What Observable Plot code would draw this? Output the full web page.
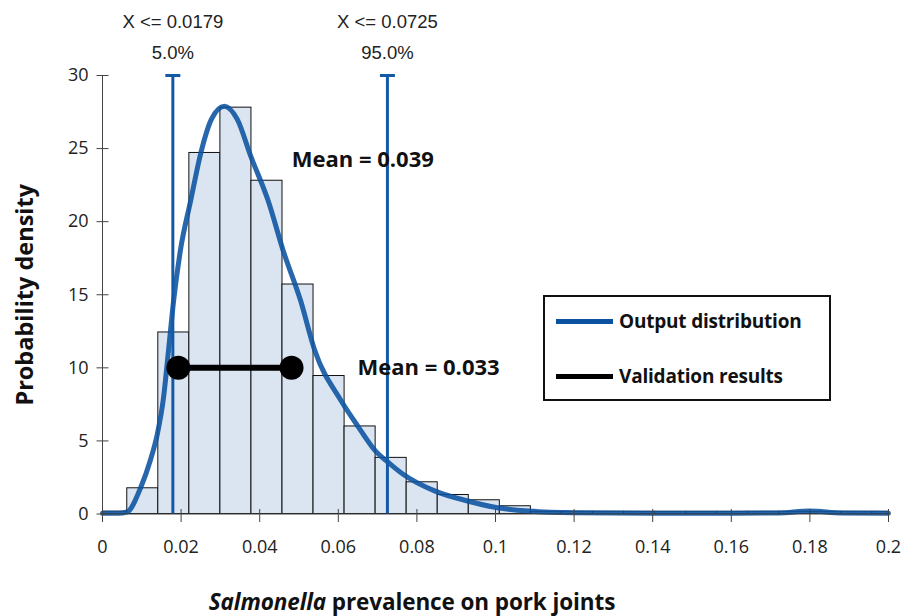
<!DOCTYPE html>
<html>
<head>
<meta charset="utf-8">
<script src="https://cdn.jsdelivr.net/npm/d3@7"></script>
<script src="https://cdn.jsdelivr.net/npm/@observablehq/plot@0.6"></script>
<style>
  html, body { margin: 0; padding: 0; background: #fff; }
  #wrap { position: relative; width: 904px; height: 616px; font-family: "Open Sans", "Noto Sans", sans-serif; }
  #xlabel { position: absolute; left: 412px; top: 589px; transform: translateX(-50%); white-space: nowrap;
            font-weight: 700; font-size: 22.5px; line-height: 25px; color: #111; letter-spacing: -0.1px; }
  #legend { position: absolute; left: 543px; top: 295px; width: 284px; height: 102px; border: 2px solid #111; background: #fff; }
  .item { position: absolute; left: 11px; display: flex; align-items: center; font-weight: 700; font-size: 19px; line-height: 24px; color: #111; letter-spacing: -0.2px; }
  .swatch { width: 57px; height: 5px; margin-right: 6px; }
</style>
</head>
<body>
<div id="wrap">
  <div id="chart"></div>
  <div id="legend"></div>
  <div id="xlabel"></div>
</div>
<script>
// Histogram of simulated prevalence: bin edges and density per bin
const binEdges = [0.0002, 0.0063, 0.0142, 0.0221, 0.0300, 0.0379, 0.0458, 0.0537, 0.0616, 0.0695,
                  0.0774, 0.0853, 0.0932, 0.1011, 0.1090, 0.1169, 0.1248, 0.1327, 0.1406, 0.1485,
                  0.1564, 0.1643, 0.1722, 0.1801, 0.1880, 0.1959, 0.2000];
const binDensity = [0.16, 1.76, 12.42, 24.7, 27.8, 22.8, 15.7, 9.44, 5.99, 3.84,
                    2.17, 1.30, 0.94, 0.53, 0.15, 0.15, 0.15, 0.15, 0.15, 0.15,
                    0.15, 0.15, 0.15, 0.15, 0.15, 0.15];

// Fitted output distribution (density curve)
const curveX = [0, 0.0040, 0.0063, 0.0097, 0.0122, 0.0139, 0.0155, 0.0168, 0.0181, 0.0198,
                0.0224, 0.0252, 0.0277, 0.0310, 0.0343, 0.0377, 0.0422, 0.0460, 0.0504, 0.0540,
                0.0606, 0.0650, 0.0695, 0.0733, 0.0765, 0.0845, 0.0929, 0.1005, 0.1085, 0.1200,
                0.1400, 0.1600, 0.1720, 0.1800, 0.1880, 0.2000];
const curveY = [0.05, 0.05, 0.15, 1.8, 3.7, 5.4, 7.9, 11.2, 14.6, 18.0,
                21.4, 24.9, 27.0, 27.9, 27.0, 24.5, 21.4, 18.0, 14.6, 11.2,
                7.8, 6.0, 4.3, 3.4, 2.72, 1.58, 0.89, 0.43, 0.20, 0.08,
                0.05, 0.05, 0.07, 0.20, 0.07, 0.05];

// 5th and 95th percentiles of the output
const percentiles = [{value: 0.0179, pct: "5.0%"}, {value: 0.0725, pct: "95.0%"}];
const outputMean = 0.039;

// Validation results: range and mean
const validationLow = 0.0193;
const validationHigh = 0.0481;
const validationMean = 0.033;
const validationLevel = 10;

const xTicks = [0, 0.02, 0.04, 0.06, 0.08, 0.1, 0.12, 0.14, 0.16, 0.18, 0.2];
const yTicks = [0, 5, 10, 15, 20, 25, 30];

const blue = "#0a52a0";
const ruleBlue = "#1459a6";
const axisGray = "#444";

const bins = binDensity.map((d, i) => ({x1: binEdges[i], x2: binEdges[i + 1], y: d}));
const curve = curveX.map((x, i) => ({x, y: curveY[i]}));
const validation = [{x: validationLow, y: validationLevel}, {x: validationHigh, y: validationLevel}];

// small line-segment symbols for the axis ticks and the percentile caps
const hbar = w => ({draw(ctx) { ctx.moveTo(-w, 0); ctx.lineTo(w, 0); }});
const vbar = (up, down) => ({draw(ctx) { ctx.moveTo(0, -up); ctx.lineTo(0, down); }});

const fmtX = d => String(+d.toFixed(2));
const labelFont = '"Liberation Sans", Arial, sans-serif';

const chart = Plot.plot({
  width: 904,
  height: 580,
  marginLeft: 102,
  marginRight: 16,
  marginTop: 75,
  marginBottom: 66.5,
  style: {fontFamily: '"Open Sans", "Noto Sans", sans-serif', background: "#fff", overflow: "visible"},
  x: {domain: [0, 0.2], label: null},
  y: {domain: [0, 30], label: null},
  marks: [
    Plot.rectY(bins, {x1: "x1", x2: "x2", y: "y", fill: "#dbe5f1", stroke: "#111", strokeWidth: 1}),
    Plot.line(curve, {x: "x", y: "y", stroke: blue, strokeWidth: 5, strokeOpacity: 0.88, curve: "monotone-x"}),
    Plot.ruleX(percentiles, {x: "value", y1: 0, y2: 30, stroke: ruleBlue, strokeWidth: 3}),
    Plot.dot(percentiles, {x: "value", y: () => 30, symbol: hbar(7.5), r: 7, fill: "none", stroke: ruleBlue, strokeWidth: 3}),
    Plot.text(percentiles, {x: "value", y: () => 30, text: d => `X <= ${d.value}`, dy: -53,
      fontFamily: labelFont, fontSize: 18.5, fill: "#222"}),
    Plot.text(percentiles, {x: "value", y: () => 30, text: "pct", dy: -22,
      fontFamily: labelFont, fontSize: 18.5, fill: "#222"}),
    // axes
    Plot.ruleX([0], {stroke: axisGray, strokeWidth: 1}),
    Plot.ruleY([0], {stroke: axisGray, strokeWidth: 1}),
    Plot.dot(yTicks, {x: () => 0, y: d => d, symbol: hbar(6), r: 6, fill: "none", stroke: axisGray, strokeWidth: 1}),
    Plot.dot(xTicks, {x: d => d, y: () => 0, symbol: vbar(5, 8), r: 6, fill: "none", stroke: axisGray, strokeWidth: 1}),
    Plot.axisY({ticks: yTicks, tickSize: 0, tickPadding: 14, fontSize: 18, fill: "#222", label: null}),
    Plot.axisX({ticks: xTicks, tickSize: 0, tickPadding: 26, tickFormat: fmtX, fontSize: 18, fill: "#222", label: null}),
    Plot.text(["Probability density"], {frameAnchor: "left", textAnchor: "middle", rotate: -90, dx: -77,
      fontWeight: 700, fontSize: 23.5, fill: "#111"}),
    // validation range with its mean
    Plot.line(validation, {x: "x", y: "y", stroke: "#000", strokeWidth: 6}),
    Plot.dot(validation, {x: "x", y: "y", r: 12, fill: "#000"}),
    Plot.text([validationMean], {x: validationHigh, y: validationLevel, text: d => `Mean = ${d}`,
      textAnchor: "start", dx: 66, fontWeight: 700, fontSize: 22, fill: "#111"}),
    Plot.text([outputMean], {x: outputMean, y: 24.2, text: d => `Mean = ${d}`,
      textAnchor: "start", dx: 36, fontWeight: 700, fontSize: 22, fill: "#111"})
  ]
});
document.getElementById("chart").appendChild(chart);

// legend
const legendItems = [{label: "Output distribution", color: blue, top: 12}, {label: "Validation results", color: "#000", top: 67}];
const legend = d3.select("#legend");
for (const it of legendItems) {
  const row = legend.append("div").attr("class", "item").style("top", it.top + "px");
  row.append("div").attr("class", "swatch").style("background", it.color);
  row.append("span").text(it.label);
}

// x-axis title with the genus name in italics
const xl = d3.select("#xlabel");
xl.append("i").text("Salmonella");
xl.append("span").text(" prevalence on pork joints");
</script>
</body>
</html>
